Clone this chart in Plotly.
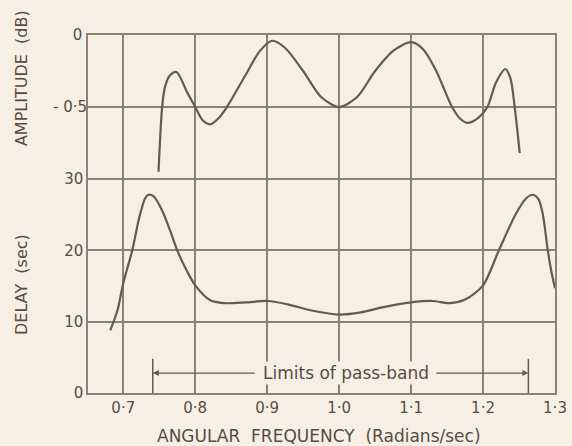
import plotly.graph_objects as go

# Delay curve (sec) vs angular frequency
delay_freq = [0.682, 0.692, 0.700, 0.7125, 0.722, 0.730, 0.735, 0.742, 0.754, 0.765, 0.775, 0.788, 0.800,
              0.821, 0.840, 0.870, 0.900, 0.930, 0.960, 1.000, 1.030, 1.060, 1.100, 1.130, 1.154, 1.175,
              1.200, 1.222, 1.245, 1.260, 1.269, 1.277, 1.283, 1.290, 1.295, 1.300]
delay_vals = [8.8, 11.6, 15.4, 20.0, 24.5, 27.2, 27.8, 27.6, 25.6, 22.8, 20.0, 17.2, 15.1,
              13.0, 12.6, 12.7, 12.9, 12.4, 11.6, 11.0, 11.3, 12.0, 12.7, 12.9, 12.6, 13.1,
              15.1, 20.0, 25.0, 27.3, 27.8, 27.2, 25.1, 20.0, 17.0, 14.7]

# Amplitude curve (dB) vs angular frequency
amp_freq = [0.749, 0.754, 0.758, 0.765, 0.774, 0.789, 0.800, 0.810, 0.821, 0.832, 0.844, 0.872, 0.890,
            0.907, 0.925, 0.950, 0.975, 1.000, 1.025, 1.050, 1.075, 1.100, 1.117, 1.134, 1.157,
            1.168, 1.178, 1.192, 1.206, 1.218, 1.231, 1.238, 1.244, 1.251]
amp_vals = [-0.95, -0.50, -0.36, -0.28, -0.257, -0.40, -0.50, -0.59, -0.62, -0.58, -0.50, -0.26, -0.11,
            -0.04, -0.09, -0.25, -0.43, -0.50, -0.43, -0.25, -0.11, -0.05, -0.10, -0.24, -0.50,
            -0.58, -0.61, -0.58, -0.50, -0.33, -0.236, -0.30, -0.50, -0.82]

freq_ticks = [0.7, 0.8, 0.9, 1.0, 1.1, 1.2, 1.3]
freq_labels = ["0·7", "0·8", "0·9", "1·0", "1·1", "1·2", "1·3"]
delay_ticks = [0, 10, 20, 30]
delay_labels = ["0", "10", "20", "30"]
amp_ticks = [-0.5, 0]
amp_labels = ["- 0·5", "0 "]

pass_band = [0.741, 1.263]

ink = "#66594f"
grid = "#8c8077"
txt = "#574c45"
bg = "#f6f0e4"
font = "DejaVu Sans"

fig = go.Figure()
fig.add_trace(go.Scatter(x=delay_freq, y=delay_vals, mode="lines",
                         line=dict(color=ink, width=2.2, shape="spline", smoothing=0.8),
                         yaxis="y", showlegend=False, hoverinfo="skip"))
fig.add_trace(go.Scatter(x=amp_freq, y=amp_vals, mode="lines",
                         line=dict(color=ink, width=2.2, shape="spline", smoothing=0.8),
                         yaxis="y2", showlegend=False, hoverinfo="skip"))

# pass-band markers
for xb in pass_band:
    fig.add_shape(type="line", xref="x", yref="y", x0=xb, x1=xb, y0=0, y1=4.8,
                  line=dict(color=ink, width=1.5))
fig.add_annotation(x=pass_band[0], y=2.8, ax=0.885, ay=2.8, xref="x", yref="y", axref="x", ayref="y",
                   text="", showarrow=True, arrowhead=2, arrowsize=1, arrowwidth=1.2, arrowcolor=ink)
fig.add_annotation(x=pass_band[1], y=2.8, ax=1.133, ay=2.8, xref="x", yref="y", axref="x", ayref="y",
                   text="", showarrow=True, arrowhead=2, arrowsize=1, arrowwidth=1.2, arrowcolor=ink)
fig.add_annotation(x=1.009, y=2.8, xref="x", yref="y", text="Limits of pass-band", showarrow=False,
                   xanchor="center", yanchor="middle",
                   font=dict(family=font, size=17, color=txt), bgcolor=bg)

# axis titles
fig.add_annotation(x=-0.141, y=0.88, xref="paper", yref="paper", text="AMPLITUDE  (dB)", textangle=-90,
                   xanchor="center", yanchor="middle",
                   showarrow=False, font=dict(family=font, size=16, color=txt))
fig.add_annotation(x=-0.141, y=0.302, xref="paper", yref="paper", text="DELAY  (sec)", textangle=-90,
                   xanchor="center", yanchor="middle",
                   showarrow=False, font=dict(family=font, size=16, color=txt))
fig.add_annotation(x=0.495, y=-0.12, xref="paper", yref="paper",
                   text="ANGULAR  FREQUENCY  (Radians/sec)", showarrow=False,
                   xanchor="center", yanchor="middle",
                   font=dict(family=font, size=17, color=txt))

fig.update_layout(
    width=572, height=446,
    margin=dict(l=88, r=17, t=35, b=53, autoexpand=False),
    paper_bgcolor=bg, plot_bgcolor=bg,
    xaxis=dict(range=[0.651, 1.3], tickvals=freq_ticks, ticktext=freq_labels, automargin=False,
               showgrid=True, gridcolor=grid, gridwidth=1.5, zeroline=False,
               showline=True, linecolor=grid, linewidth=1.5, mirror=True,
               ticks="", tickfont=dict(family=font, size=15, color=txt)),
    yaxis=dict(range=[0, 50.2], tickvals=delay_ticks, ticktext=delay_labels, automargin=False,
               showgrid=True, gridcolor=grid, gridwidth=1.5, zeroline=False,
               showline=True, linecolor=grid, linewidth=1.5, mirror=True,
               ticks="", tickfont=dict(family=font, size=15, color=txt)),
    yaxis2=dict(range=[-2.485, 0], overlaying="y", side="left", tickvals=amp_ticks, ticktext=amp_labels,
                automargin=False, showgrid=True, gridcolor=grid, gridwidth=1.5, zeroline=False,
                showline=False, ticks="", tickfont=dict(family=font, size=15, color=txt)),
)

fig.write_html("out.html", config={"displayModeBar": False},
               post_script="document.body.style.margin='0';")
